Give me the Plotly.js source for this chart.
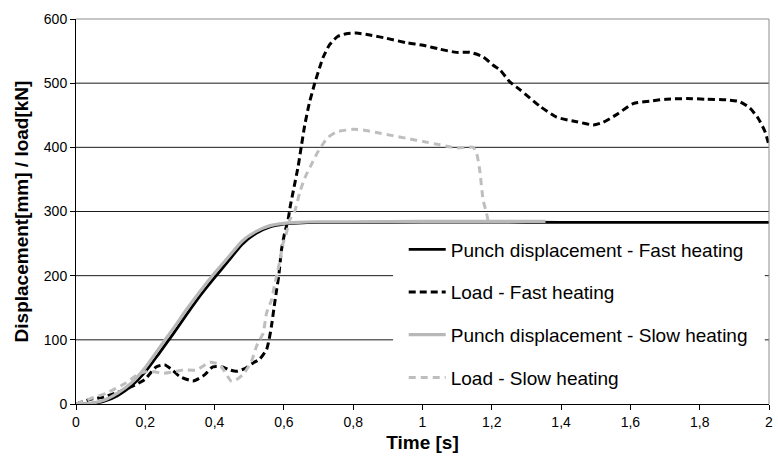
<!DOCTYPE html>
<html>
<head>
<meta charset="utf-8">
<script src="https://cdn.plot.ly/plotly-3.0.1.min.js"></script>
<style>html,body{margin:0;padding:0;background:#fff;}#chart{width:778px;height:466px;}</style>
</head>
<body>
<div id="chart"></div>
<script>
// ---- data ----
var seriesNames = ["Punch displacement - Fast heating", "Load - Fast heating", "Punch displacement - Slow heating", "Load - Slow heating"];

var tFastDisp = [0, 0.04, 0.08, 0.12, 0.16, 0.2, 0.24, 0.28, 0.32, 0.36, 0.4, 0.44, 0.48, 0.52, 0.56, 0.6, 0.64, 0.7, 0.8, 1.0, 1.2, 1.4, 1.6, 1.8, 2.0];
var fastDisp  = [0, 0.5, 4, 13, 28, 50, 79, 109, 140, 170, 197, 223, 249, 266, 276, 280.5, 282, 283, 283, 283.5, 283.5, 283, 283, 283, 283];

var tSlowDisp = [0, 0.04, 0.08, 0.12, 0.16, 0.2, 0.24, 0.28, 0.32, 0.36, 0.4, 0.44, 0.48, 0.52, 0.56, 0.6, 0.64, 0.7, 0.8, 1.0, 1.2, 1.355];
var slowDisp  = [0, 1, 6, 17, 33, 57, 87, 117, 148, 177, 204, 229, 254, 269, 278, 281.5, 283, 284, 284, 284.5, 284.5, 284.5];

var tFastLoad = [0, 0.04, 0.08, 0.12, 0.16, 0.198, 0.232, 0.256, 0.28, 0.299, 0.338, 0.37, 0.395, 0.42, 0.444, 0.463, 0.49, 0.511, 0.53, 0.55, 0.557, 0.564, 0.572, 0.579, 0.585, 0.593, 0.602, 0.612, 0.619, 0.626, 0.641, 0.651, 0.66, 0.673, 0.689, 0.703, 0.713, 0.732, 0.756, 0.78, 0.809, 0.848, 0.896, 0.954, 1.002, 1.05, 1.098, 1.137, 1.175, 1.204, 1.223, 1.252, 1.281, 1.339, 1.387, 1.445, 1.493, 1.521, 1.56, 1.608, 1.656, 1.704, 1.762, 1.82, 1.877, 1.916, 1.945, 1.969, 1.988, 2.0];
var fastLoad  = [0, 7, 11, 18, 27, 38, 58, 61, 52, 43, 36, 45, 58, 58, 53, 51, 56, 64, 70, 85, 100, 121, 152, 178, 199, 240, 266, 287, 310, 329, 370, 404, 434, 468, 500, 524, 540, 560, 573, 577, 578, 575, 570, 563, 559, 553, 548, 548, 541, 528, 521, 502, 490, 464, 447, 440, 435, 439, 451, 468, 472, 475, 476, 475, 474, 471, 461, 445, 425, 403];

var tSlowLoad = [0, 0.04, 0.088, 0.145, 0.184, 0.213, 0.251, 0.28, 0.309, 0.348, 0.386, 0.415, 0.434, 0.449, 0.463, 0.482, 0.506, 0.521, 0.53, 0.54, 0.55, 0.564, 0.574, 0.583, 0.598, 0.607, 0.617, 0.631, 0.646, 0.66, 0.68, 0.695, 0.71, 0.726, 0.752, 0.8, 0.829, 0.867, 0.906, 0.954, 1.002, 1.05, 1.098, 1.127, 1.146, 1.156, 1.165, 1.175, 1.185, 1.19];
var slowLoad  = [0, 8, 17, 33, 48, 51, 48, 50, 53, 53, 65, 61, 46, 35, 38, 46, 66, 90, 100, 110, 142, 162, 188, 209, 251, 266, 287, 300, 330, 352, 374, 390, 403, 415, 424, 428, 427, 423, 419, 414, 409, 404, 399, 400, 400, 391, 365, 318, 297, 283];

var xTickVals = [0, 0.2, 0.4, 0.6, 0.8, 1, 1.2, 1.4, 1.6, 1.8, 2];
var xTickText = ["0", "0,2", "0,4", "0,6", "0,8", "1", "1,2", "1,4", "1,6", "1,8", "2"];
var yTickVals = [0, 100, 200, 300, 400, 500, 600];
var yTickText = ["0", "100", "200", "300", "400", "500", "600"];
var gridVals  = [100, 200, 300, 400, 500];

var xTitle = "Time [s]";
var yTitle = "Displacement[mm] / load[kN]";

// ---- styling ----
var FONT = "Liberation Sans, Arial, sans-serif";
var BLACK = "#000000";
var GRAY = "#BEBEBE";
var GRID = "#1a1a1a";
var LEG_X0 = 0.4575, LEG_X1 = 0.994, LEG_TOP = 268; // legend box (covers gridlines)

var traces = [
  {x: tFastDisp, y: fastDisp, name: seriesNames[0], legendgroup: "g1", mode: "lines",
   line: {color: BLACK, width: 2.8, shape: "spline", smoothing: 0.6}},
  {x: tFastLoad, y: fastLoad, name: seriesNames[1], legendgroup: "g2", mode: "lines",
   line: {color: BLACK, width: 3, dash: "7px,4px", shape: "spline", smoothing: 0.6}},
  {x: tSlowDisp, y: slowDisp, name: seriesNames[2], legendgroup: "g3", mode: "lines",
   line: {color: "#B8B8B8", width: 3.2, shape: "spline", smoothing: 0.6}},
  {x: tSlowLoad, y: slowLoad, name: seriesNames[3], legendgroup: "g4", mode: "lines",
   line: {color: GRAY, width: 3, dash: "7px,5px", shape: "spline", smoothing: 0.6}}
];

// gridlines as shapes so the legend box interrupts those it overlaps
var shapes = [];
gridVals.forEach(function (v) {
  if (v < LEG_TOP) {
    shapes.push({type: "line", layer: "below", xref: "paper", yref: "y", x0: 0, x1: LEG_X0, y0: v, y1: v, line: {color: GRID, width: 1}});
    shapes.push({type: "line", layer: "below", xref: "paper", yref: "y", x0: LEG_X1, x1: 1, y0: v, y1: v, line: {color: GRID, width: 1}});
  } else {
    shapes.push({type: "line", layer: "below", xref: "paper", yref: "y", x0: 0, x1: 1, y0: v, y1: v, line: {color: GRID, width: 1}});
  }
});
shapes.push({type: "line", xref: "paper", yref: "paper", x0: 0, x1: 1, y0: 1, y1: 1, line: {color: "#8C8C8C", width: 1}});
shapes.push({type: "line", xref: "paper", yref: "paper", x0: 1, x1: 1, y0: 0, y1: 1, line: {color: "#8C8C8C", width: 1}});

var layout = {
  width: 778, height: 466,
  margin: {l: 76, r: 9, t: 19, b: 62, pad: 0},
  paper_bgcolor: "#ffffff", plot_bgcolor: "#ffffff",
  font: {family: FONT, color: BLACK, size: 14},
  showlegend: true,
  legend: {
    x: 0.4729, y: 0.4508, xanchor: "left", yanchor: "top",
    bgcolor: "rgba(0,0,0,0)", borderwidth: 0,
    font: {family: FONT, size: 19, color: BLACK},
    traceorder: "grouped", tracegroupgap: 15, itemwidth: 37
  },
  xaxis: {
    range: [0, 2], tickvals: xTickVals, ticktext: xTickText,
    ticks: "outside", ticklen: 5, tickwidth: 1, tickcolor: BLACK,
    showline: true, linecolor: BLACK, linewidth: 1,
    showgrid: false, zeroline: false, fixedrange: true,
    tickfont: {family: FONT, size: 14, color: BLACK},
    title: {text: xTitle, font: {family: FONT, size: 19, color: BLACK, weight: "bold"}, standoff: 6}
  },
  yaxis: {
    range: [0, 600], tickvals: yTickVals, ticktext: yTickText,
    ticks: "outside", ticklen: 5, tickwidth: 1, tickcolor: BLACK,
    showline: true, linecolor: BLACK, linewidth: 1,
    showgrid: false, zeroline: false, fixedrange: true,
    tickfont: {family: FONT, size: 14, color: BLACK},
    title: {text: yTitle, font: {family: FONT, size: 19, color: BLACK, weight: "bold"}, standoff: 10}
  },
  shapes: shapes
};

Plotly.newPlot("chart", traces, layout, {staticPlot: true, displayModeBar: false});
</script>
</body>
</html>
